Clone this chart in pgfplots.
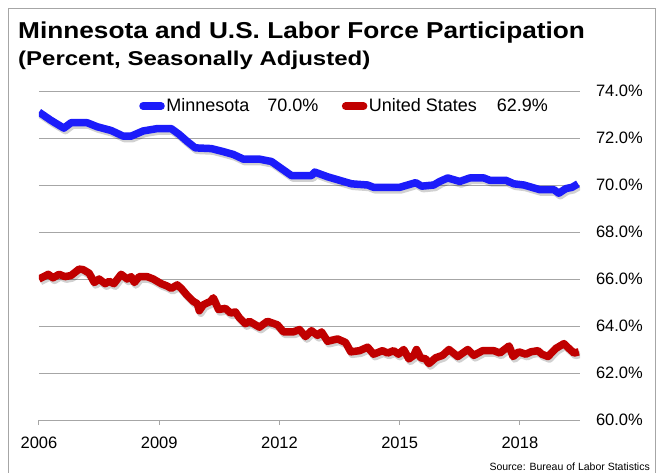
\documentclass[border=0pt]{standalone}
\usepackage{fontspec}
\setmainfont{Liberation Sans}
\usepackage{pgfplots}
\usepackage{pgfplotstable}
\pgfplotsset{compat=1.18}
\definecolor{mnblue}{RGB}{28,28,250}
\definecolor{usred}{RGB}{192,0,0}
\definecolor{gridgray}{RGB}{166,166,166}

\pgfplotstableread{
t v
2006.00 73.10
2006.30 72.75
2006.62 72.42
2006.80 72.65
2006.95 72.65
2007.20 72.65
2007.45 72.48
2007.80 72.32
2008.10 72.08
2008.30 72.08
2008.60 72.30
2008.95 72.40
2009.30 72.40
2009.50 72.15
2009.70 71.85
2009.90 71.58
2010.30 71.55
2010.60 71.42
2010.85 71.30
2011.10 71.10
2011.50 71.10
2011.80 71.00
2012.05 70.70
2012.30 70.40
2012.80 70.40
2012.88 70.55
2013.20 70.35
2013.50 70.20
2013.80 70.05
2014.20 70.00
2014.35 69.90
2015.00 69.90
2015.20 70.00
2015.40 70.10
2015.55 69.95
2015.85 70.00
2016.00 70.15
2016.20 70.30
2016.50 70.15
2016.75 70.30
2017.10 70.30
2017.25 70.20
2017.65 70.20
2017.85 70.05
2018.10 70.00
2018.50 69.80
2018.85 69.80
2018.97 69.65
2019.15 69.85
2019.30 69.90
2019.45 70.05
}\mndata

\pgfplotstableread{
t v
2006.00 66.00
2006.12 66.10
2006.23 66.20
2006.35 66.05
2006.50 66.20
2006.65 66.10
2006.80 66.15
2007.00 66.42
2007.10 66.40
2007.25 66.25
2007.38 65.85
2007.50 66.00
2007.65 65.80
2007.75 65.90
2007.87 65.80
2008.05 66.20
2008.20 66.00
2008.30 66.10
2008.38 65.85
2008.50 66.10
2008.70 66.10
2008.85 66.00
2009.05 65.80
2009.20 65.70
2009.30 65.60
2009.45 65.75
2009.55 65.60
2009.70 65.30
2009.85 65.05
2009.95 64.95
2010.00 64.65
2010.10 64.90
2010.28 65.05
2010.35 65.20
2010.48 64.70
2010.65 64.75
2010.78 64.55
2010.90 64.60
2011.00 64.35
2011.15 64.10
2011.25 64.20
2011.50 63.95
2011.70 64.20
2011.95 64.05
2012.10 63.75
2012.35 63.75
2012.50 63.85
2012.65 63.55
2012.80 63.80
2012.95 63.60
2013.05 63.75
2013.20 63.35
2013.45 63.45
2013.65 63.30
2013.78 62.90
2014.00 62.95
2014.20 63.10
2014.35 62.80
2014.57 62.95
2014.70 62.85
2014.85 62.95
2014.97 62.80
2015.10 63.00
2015.23 62.60
2015.35 62.75
2015.42 63.00
2015.52 62.65
2015.65 62.60
2015.73 62.40
2015.90 62.65
2016.07 62.75
2016.23 63.00
2016.45 62.70
2016.70 63.00
2016.85 62.75
2017.07 62.95
2017.35 62.95
2017.50 62.85
2017.73 63.15
2017.83 62.70
2017.97 62.90
2018.15 62.80
2018.27 62.90
2018.45 62.95
2018.55 62.80
2018.70 62.70
2018.90 63.05
2019.10 63.25
2019.22 63.05
2019.35 62.85
2019.47 62.90
}\usdata

\begin{document}
\begin{tikzpicture}[x=1pt,y=1pt]
\useasboundingbox (0,0) rectangle (660,472);
\draw[gridgray, line width=1pt] (8,-10) rectangle (655,463);
\node[anchor=base west, inner sep=0pt] at (18,433)
  {\fontsize{23}{27}\selectfont\bfseries\scalebox{1.14}[1]{Minnesota and U.S. Labor Force Participation}};
\node[anchor=base west, inner sep=0pt] at (18,406)
  {\fontsize{20}{24}\selectfont\bfseries\scalebox{1.2}[1]{(Percent, Seasonally Adjusted)}};
\node[anchor=base east, inner sep=0pt, font=\fontsize{10.5}{12}\selectfont] at (650,2)
  {Source: Bureau of Labor Statistics};
\begin{axis}[
  at={(39pt,52pt)}, anchor=south west,
  scale only axis, width=541pt, height=329pt,
  xmin=2006, xmax=2019.5, ymin=60, ymax=74,
  axis x line*=bottom, axis y line*=right,
  x axis line style={gridgray, line width=1pt, -},
  y axis line style={draw=none},
  xtick={2006,2009,2012,2015,2018},
  xticklabels={2006,2009,2012,2015,2018},
  ytick={60,62,64,66,68,70,72,74},
  yticklabels={60.0\%,62.0\%,64.0\%,66.0\%,68.0\%,70.0\%,72.0\%,74.0\%},
  ymajorgrids, grid style={gridgray, line width=1pt},
  tick align=outside, major tick length=5pt,
  xtick style={gridgray, line width=1pt},
  ytick style={draw=none},
  tick label style={font=\fontsize{16.5}{18}\selectfont},
  /pgf/number format/assume math mode=true,
  xticklabel style={inner sep=0pt, anchor=north, yshift=-11.5pt},
  yticklabel style={inner sep=0pt, anchor=east, xshift=58pt},
  legend style={at={(0.185,0.954)}, anchor=west, draw=none, fill=none,
    font=\fontsize{18}{20}\selectfont, inner sep=0pt,
    nodes={inner sep=1.5pt},
    /tikz/every even column/.append style={column sep=22pt}},
  legend columns=2,
  legend image code/.code={\draw[#1, line width=7.5pt, line cap=round] (3pt,0pt) -- (21pt,0pt);},
  line join=round,
]
\addplot[black, opacity=0.18, line width=7.5pt, xshift=1.5pt, yshift=-2.5pt, forget plot] table[x=t,y=v] {\mndata};
\addplot[black, opacity=0.18, line width=7.5pt, xshift=1.5pt, yshift=-2.5pt, forget plot] table[x=t,y=v] {\usdata};
\addplot[mnblue, line width=7.5pt] table[x=t,y=v] {\mndata};
\addplot[usred, line width=7.5pt] table[x=t,y=v] {\usdata};
\legend{Minnesota\hspace{18pt}70.0\%, United States\hspace{20pt}62.9\%}
\end{axis}
\end{tikzpicture}
\end{document}
